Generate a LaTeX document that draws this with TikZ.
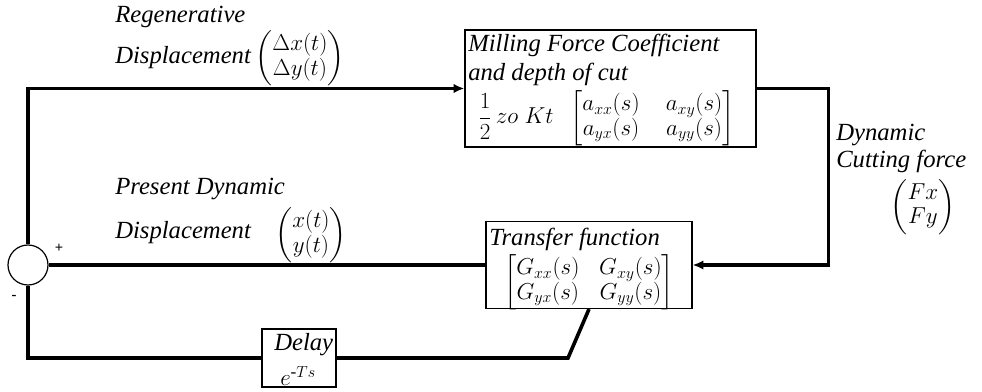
\documentclass[tikz,border=0pt]{standalone}
\usepackage{amsmath}
\usepackage{fontspec}
\setmainfont{Liberation Serif}
\usetikzlibrary{arrows.meta}
\renewcommand{\arraystretch}{0.82}
\begin{document}
\begin{tikzpicture}[x=0.75pt,y=-0.75pt,
  wire/.style={line width=2.7pt},
  blk/.style={draw, line width=0.9pt, inner sep=0pt},
  lbl/.style={font=\fontsize{18.5}{22}\selectfont\itshape, inner sep=0pt, anchor=west},
  mth/.style={font=\fontsize{18.5}{22}\selectfont, inner sep=0pt},
  sgn/.style={font=\fontsize{11}{12}\selectfont\bfseries, inner sep=0pt},
  arr/.style={-{Latex[length=8pt,width=7pt]}}
]
\useasboundingbox (0,0) rectangle (982,392);

% blocks
\node[blk, minimum width=218.25pt, minimum height=87.75pt] (mill) at (610.5,88.5) {};
\node[blk, minimum width=154.5pt, minimum height=65.25pt] (tf) at (589,265) {};
\node[blk, minimum width=55.5pt, minimum height=43.5pt] (delay) at (299,358) {};
\node[draw, circle, line width=0.9pt, minimum size=30pt, inner sep=0pt] (sum) at (28,265) {};

% block texts
\node[lbl] (mill1) at (468,45) {Milling Force Coefficient};
\node[lbl] (mill2) at (468,74) {and depth of cut};
\node[mth, anchor=west] (mill3) at (478,118) {$\dfrac{1}{2}\,zo\;Kt\;\;\begin{bmatrix} a_{xx}(s) & \;\;a_{xy}(s)\\ a_{yx}(s) & \;\;a_{yy}(s)\end{bmatrix}$};
\node[lbl] (tf1) at (489,239) {Transfer function};
\node[mth] (tf2) at (589,282) {$\begin{bmatrix} G_{xx}(s) & \;G_{xy}(s)\\ G_{yx}(s) & \;G_{yy}(s)\end{bmatrix}$};
\node[lbl] (d1) at (274,345) {Delay};
\node[mth, anchor=west] (d2) at (280,376) {$e^{\text{-}Ts}$};

% labels
\node[lbl] (r1) at (115,17) {Regenerative};
\node[lbl] (r2) at (115,58) {Displacement};
\node[mth] (r3) at (300,58) {$\begin{pmatrix}\Delta x(t)\\ \Delta y(t)\end{pmatrix}$};
\node[lbl] (p1) at (115,189) {Present Dynamic};
\node[lbl] (p2) at (115,233) {Displacement};
\node[mth] (p3) at (311,235) {$\begin{pmatrix}x(t)\\ y(t)\end{pmatrix}$};
\node[lbl] (c1) at (836,135) {Dynamic};
\node[lbl] (c2) at (836,161) {Cutting force};
\node[mth] (c3) at (923,207) {$\begin{pmatrix}Fx\\ Fy\end{pmatrix}$};
\node[sgn] (plus) at (59,248) {+};
\node[sgn] (minus) at (14,297) {-};

% connectors
\draw[wire, arr] (sum.north) |- (mill.west);
\draw[wire, arr] (mill.east) -- ++(72,0) |- (tf.east);
\draw[wire] (tf.west) -- (sum.east);
\draw[wire] (sum.south) |- (delay.west);
\coordinate (bend) at (568,358);
\draw[wire] (delay.east) -- (bend) -- (tf.south);
\end{tikzpicture}
\end{document}
